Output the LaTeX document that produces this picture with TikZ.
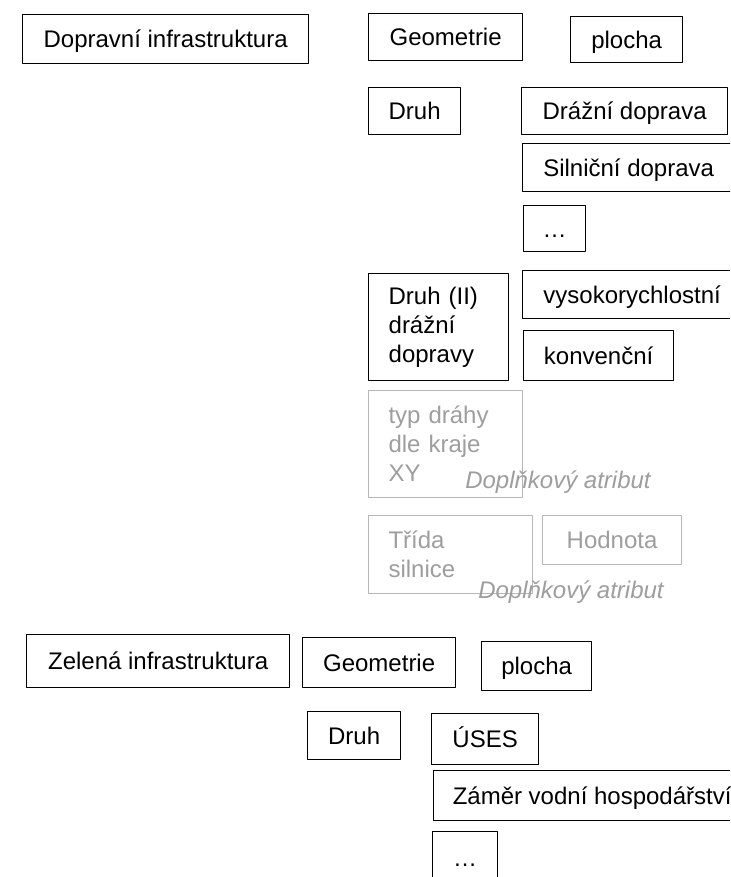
\documentclass[tikz,border=0pt]{standalone}
\usepackage{fontspec}
\setmainfont{Liberation Sans}
\usetikzlibrary{positioning}

\colorlet{attrgray}{black!38}
\tikzset{
  box/.style={draw,line width=1.3pt,line join=round,anchor=north west,inner sep=0pt,
    text height=22pt,text depth=5pt,font=\fontsize{24}{28.5}\selectfont},
  multibox/.style={draw,line width=1.3pt,line join=round,anchor=north west,inner ysep=0pt,
    align=left,inner xsep=20pt,font=\fontsize{24}{29}\selectfont},
  attrbox/.style={draw=black!28,text=attrgray,line width=1.1pt},
  attrnote/.style={anchor=base,text=attrgray,font=\fontsize{24}{28.5}\selectfont\itshape}
}

\begin{document}
\begin{tikzpicture}[x=1pt,y=-1pt]
  \clip (0,0) rectangle (730,877);
  \fill[white] (0,0) rectangle (730,877);

  %doprava
  \node[box,minimum width=286,minimum height=49] (dopr) at (22,14) {Dopravní infrastruktura};
  \node[box,minimum width=154,minimum height=47] (geomA) at (368,13) {Geometrie};
  \node[box,minimum width=112,minimum height=46] (plochaA) at (570,16) {plocha};
  \node[box,minimum width=92,minimum height=47] (druhA) at (368,87) {Druh};
  \node[box,minimum width=206,minimum height=47] (drazni) at (521,87) {Drážní doprava};
  \node[box,minimum width=212,minimum height=48] (silnicni) at (522,143) {Silniční doprava};
  \node[box,minimum width=62,minimum height=46] (dotsA) at (523,205) {…};
  \node[multibox,text width=100pt,minimum height=107] (druhB) at (368,273) {Druh (II)\\drážní\\dopravy};
  \node[box,minimum width=219,minimum height=48] (vysoko) at (522,270) {vysokorychlostní};
  \node[box,minimum width=150,minimum height=50] (konv) at (523,330) {konvenční};

  %doplnkove atributy
  \node[multibox,attrbox,text width=114pt,minimum height=107] (typ) at (368,390) {typ dráhy\\dle kraje\\XY};
  \node[attrnote] (noteA) at (558,488) {Doplňkový atribut};
  \node[multibox,attrbox,text width=124pt,minimum height=78] (trida) at (368,515) {Třída\\silnice};
  \node[box,attrbox,minimum width=139,minimum height=49] (hodnota) at (542,515) {Hodnota};
  \node[attrnote] (noteB) at (571,598) {Doplňkový atribut};

  %zelen
  \node[box,minimum width=263,minimum height=53] (zelena) at (26,634) {Zelená infrastruktura};
  \node[box,minimum width=153,minimum height=50] (geomB) at (302,637) {Geometrie};
  \node[box,minimum width=110,minimum height=49] (plochaB) at (481,641) {plocha};
  \node[box,minimum width=93,minimum height=48] (druhC) at (307,711) {Druh};
  \node[box,minimum width=107,minimum height=51] (uses) at (431,713) {ÚSES};
  \node[box,minimum width=317,minimum height=50] (zamer) at (433,770) {Záměr vodní hospodářství};
  \node[box,minimum width=65,minimum height=52] (dotsB) at (432,831) {…};

\end{tikzpicture}
\end{document}
